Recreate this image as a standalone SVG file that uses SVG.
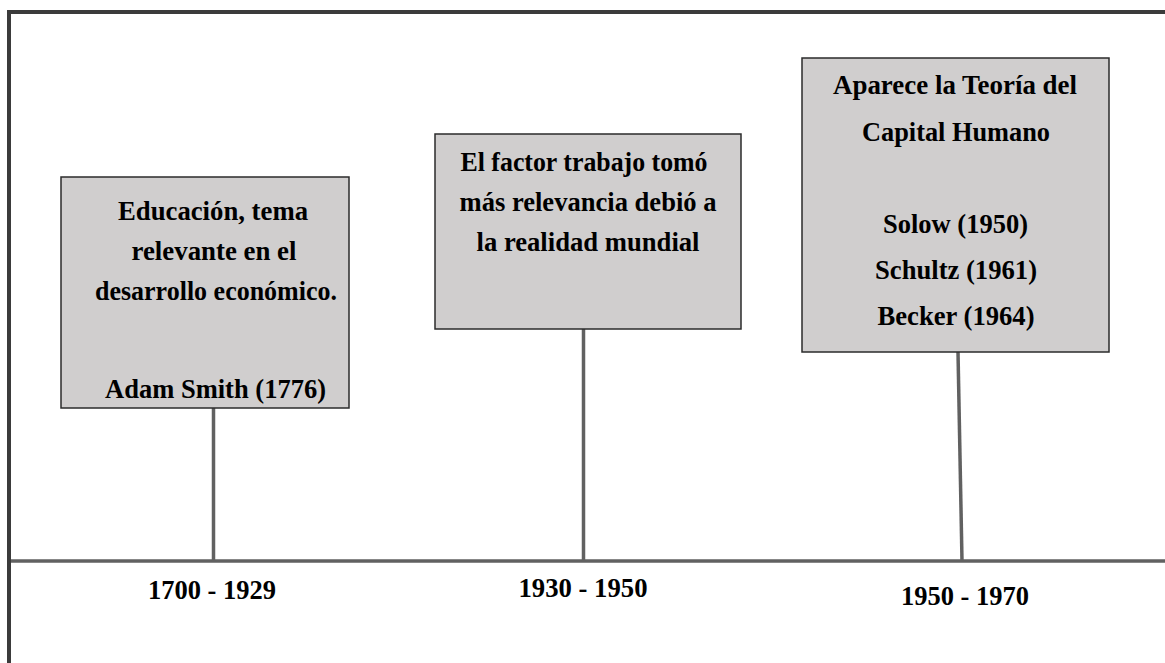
<svg xmlns="http://www.w3.org/2000/svg" width="1165" height="663" viewBox="0 0 1165 663">
<style>
.frame{stroke:#3b3b3b;stroke-width:4;fill:none}
.box{fill:#d0cece;stroke:#2b2b2b;stroke-width:1.5}
.conn{stroke:#616161;stroke-width:3.5;fill:none}
.t{font-family:"Liberation Serif","Times New Roman",serif;font-weight:bold;font-size:28px;fill:#000;text-anchor:middle}
</style>
<rect width="1165" height="663" fill="#ffffff"/>
<g id="frame">
<line class="frame" x1="9" y1="10" x2="9" y2="663"/>
<line class="frame" x1="7" y1="12" x2="1165" y2="12"/>
</g>
<g id="connectors">
<line class="conn" x1="11" y1="561" x2="1165" y2="561"/>
<line class="conn" x1="213.5" y1="408" x2="213.5" y2="561"/>
<line class="conn" x1="583.5" y1="329" x2="583.5" y2="561"/>
<line class="conn" x1="958" y1="352" x2="962" y2="561"/>
</g>
<g id="node1">
<rect class="box" x="61" y="177" width="288" height="231"/>
<text class="t" x="213" y="220" textLength="190" lengthAdjust="spacingAndGlyphs">Educación, tema</text>
<text class="t" x="214" y="260" textLength="165" lengthAdjust="spacingAndGlyphs">relevante en el</text>
<text class="t" x="216" y="300" textLength="242" lengthAdjust="spacingAndGlyphs">desarrollo económico.</text>
<text class="t" x="215.5" y="398" textLength="221" lengthAdjust="spacingAndGlyphs">Adam Smith (1776)</text>
</g>
<g id="node2">
<rect class="box" x="435" y="134" width="306" height="195"/>
<text class="t" x="584" y="171" textLength="247" lengthAdjust="spacingAndGlyphs">El factor trabajo tomó</text>
<text class="t" x="588" y="211" textLength="257" lengthAdjust="spacingAndGlyphs">más relevancia debió a</text>
<text class="t" x="588" y="251" textLength="223" lengthAdjust="spacingAndGlyphs">la realidad mundial</text>
</g>
<g id="node3">
<rect class="box" x="802" y="58" width="307" height="294"/>
<text class="t" x="955" y="94" textLength="244" lengthAdjust="spacingAndGlyphs">Aparece la Teoría del</text>
<text class="t" x="956" y="141" textLength="188" lengthAdjust="spacingAndGlyphs">Capital Humano</text>
<text class="t" x="955.5" y="233" textLength="145" lengthAdjust="spacingAndGlyphs">Solow (1950)</text>
<text class="t" x="956" y="279" textLength="162" lengthAdjust="spacingAndGlyphs">Schultz (1961)</text>
<text class="t" x="956" y="325" textLength="157" lengthAdjust="spacingAndGlyphs">Becker (1964)</text>
</g>
<g id="labels">
<text class="t" x="212" y="599" textLength="128" lengthAdjust="spacingAndGlyphs">1700 - 1929</text>
<text class="t" x="583" y="597" textLength="129" lengthAdjust="spacingAndGlyphs">1930 - 1950</text>
<text class="t" x="965" y="605" textLength="128" lengthAdjust="spacingAndGlyphs">1950 - 1970</text>
</g>
</svg>
